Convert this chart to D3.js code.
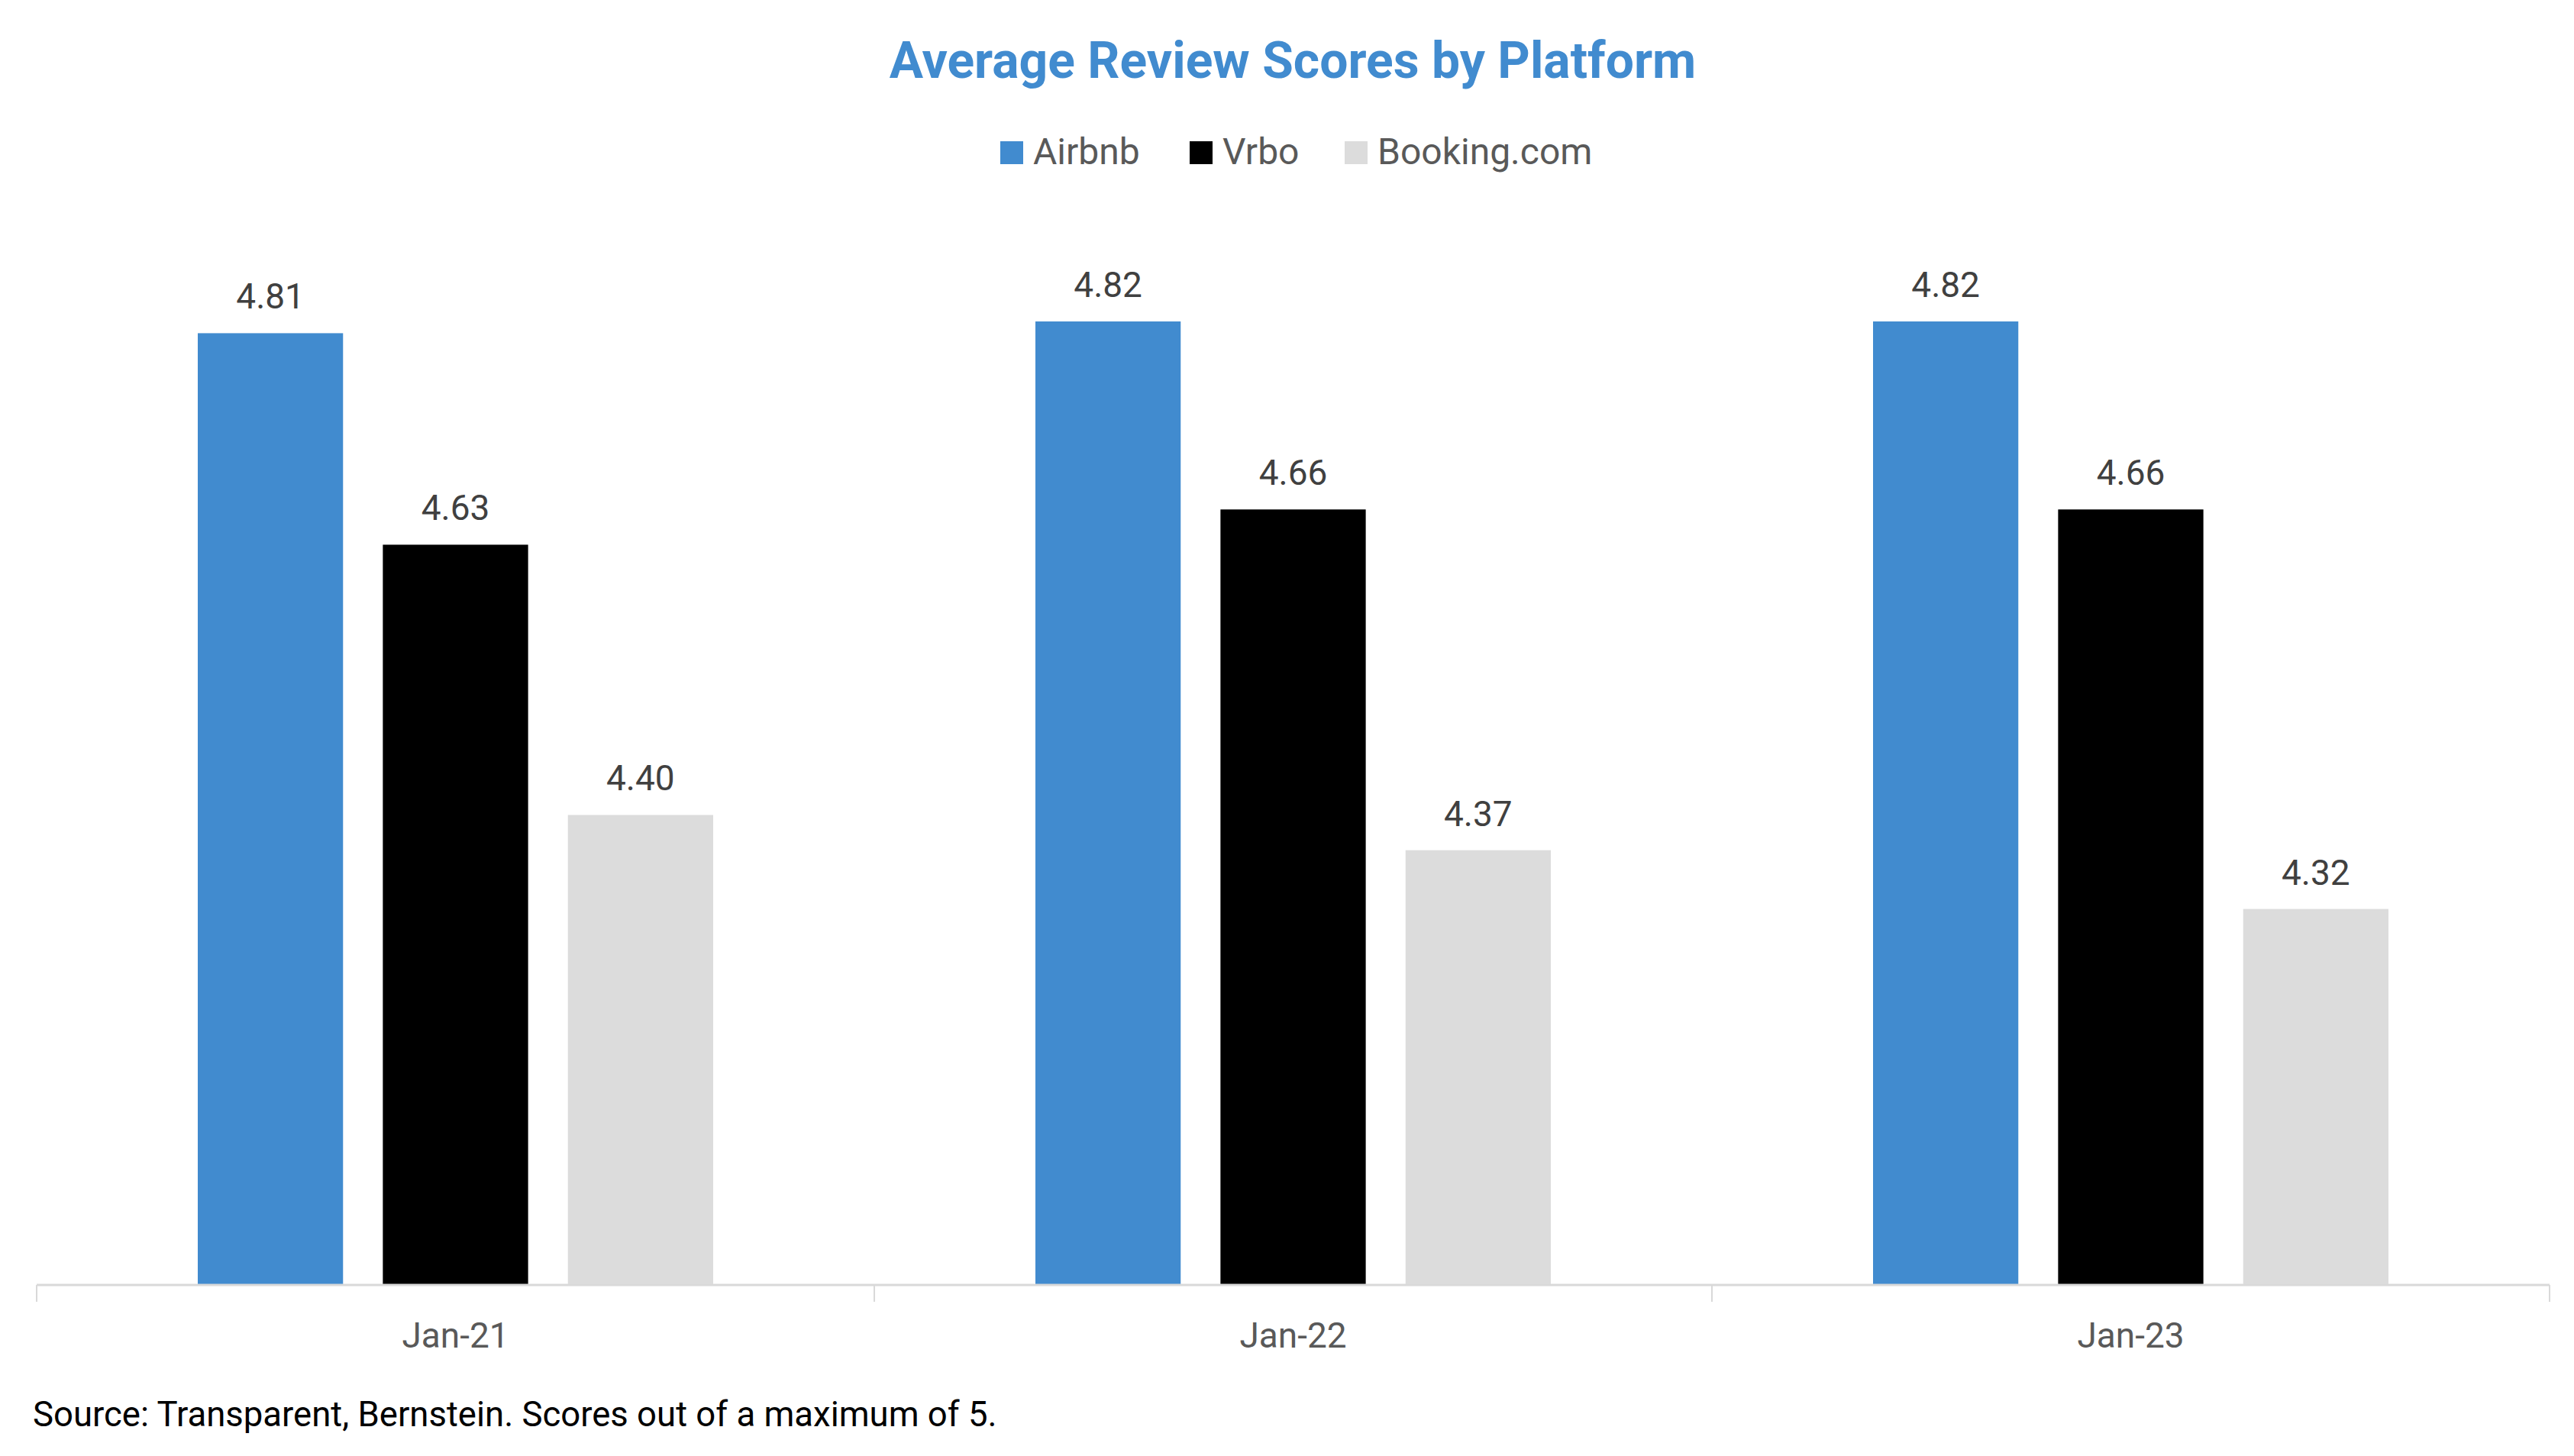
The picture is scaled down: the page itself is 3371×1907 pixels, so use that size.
<!DOCTYPE html>
<html>
<head>
<meta charset="utf-8">
<script src="https://cdn.jsdelivr.net/npm/d3@7"></script>
<style>
  html, body { margin: 0; padding: 0; background: #fff; }
  text { font-family: Roboto, "Liberation Sans", sans-serif; }
</style>
</head>
<body>
<div id="chart"></div>
<script>
// chart values
const categories = ['Jan-21', 'Jan-22', 'Jan-23'];
const seriesNames = ['Airbnb', 'Vrbo', 'Booking.com'];
const airbnb = [4.81, 4.82, 4.82];
const vrbo = [4.63, 4.66, 4.66];
const booking = [4.40, 4.37, 4.32];
const seriesValues = [airbnb, vrbo, booking];
const colors = ['#418bcf', '#000000', '#dcdcdc'];

const width = 3371;
const height = 1907;

const svg = d3.select('#chart').append('svg')
    .attr('width', width)
    .attr('height', height);

// scales
const x0 = d3.scaleBand().domain(categories).range([48, 3339]).padding(0);
const x1 = d3.scaleBand().domain(seriesNames)
    .range([211, x0.bandwidth() - 211])
    .paddingInner(0.215);
const y = d3.scaleLinear().domain([4, 5]).range([1683, 144]);

// title
svg.append('text')
    .attr('x', 1693)
    .attr('y', 102)
    .attr('text-anchor', 'middle')
    .attr('font-size', 66)
    .attr('font-weight', 700)
    .attr('fill', '#418bcf')
    .text('Average Review Scores by Platform');

// legend
const legendItems = [
    { name: 'Airbnb', x: 1310 },
    { name: 'Vrbo', x: 1558 },
    { name: 'Booking.com', x: 1761 }
];
const legend = svg.append('g');
legendItems.forEach((item, i) => {
    legend.append('rect')
        .attr('x', item.x)
        .attr('y', 185)
        .attr('width', 30)
        .attr('height', 30)
        .attr('fill', colors[i]);
    legend.append('text')
        .attr('x', item.x + 43)
        .attr('y', 215)
        .attr('font-size', 48)
        .attr('fill', '#595959')
        .text(item.name);
});

// bars
const groups = svg.selectAll('g.group')
    .data(categories)
    .enter()
    .append('g')
    .attr('class', 'group')
    .attr('transform', (d) => `translate(${x0(d)},0)`);

groups.selectAll('rect')
    .data((d, ci) => seriesNames.map((s, si) => ({ series: s, value: seriesValues[si][ci], si: si })))
    .enter()
    .append('rect')
    .attr('x', (d) => x1(d.series))
    .attr('y', (d) => y(d.value))
    .attr('width', x1.bandwidth())
    .attr('height', (d) => y(4) - y(d.value))
    .attr('fill', (d) => colors[d.si]);

// data labels
groups.selectAll('text.label')
    .data((d, ci) => seriesNames.map((s, si) => ({ series: s, value: seriesValues[si][ci] })))
    .enter()
    .append('text')
    .attr('class', 'label')
    .attr('x', (d) => x1(d.series) + x1.bandwidth() / 2)
    .attr('y', (d) => y(d.value) - 32)
    .attr('text-anchor', 'middle')
    .attr('font-size', 46)
    .attr('fill', '#404040')
    .text((d) => d.value.toFixed(2));

// x axis
const xAxis = d3.axisBottom(x0).tickSize(0).tickPadding(0);
const axisG = svg.append('g')
    .attr('transform', `translate(0,${y(4)})`)
    .call(xAxis);
axisG.select('.domain').remove();
axisG.append('line')
    .attr('x1', 48).attr('x2', 3339)
    .attr('y1', 0).attr('y2', 0)
    .attr('stroke', '#d9d9d9')
    .attr('stroke-width', 3);
axisG.selectAll('.tick line').remove();
const edges = categories.map((c) => x0(c)).concat([x0.range()[1]]);
axisG.selectAll('line.edge')
    .data(edges)
    .enter()
    .append('line')
    .attr('class', 'edge')
    .attr('x1', (d) => d).attr('x2', (d) => d)
    .attr('y1', 0).attr('y2', 22)
    .attr('stroke', '#d9d9d9')
    .attr('stroke-width', 2);
axisG.selectAll('.tick text')
    .attr('y', 82)
    .attr('dy', 0)
    .attr('font-size', 46)
    .attr('font-family', 'Roboto, sans-serif')
    .attr('fill', '#595959');

// source note
svg.append('text')
    .attr('x', 43)
    .attr('y', 1868)
    .attr('font-size', 45.5)
    .attr('fill', '#000')
    .text('Source: Transparent, Bernstein. Scores out of a maximum of 5.');
</script>
</body>
</html>
